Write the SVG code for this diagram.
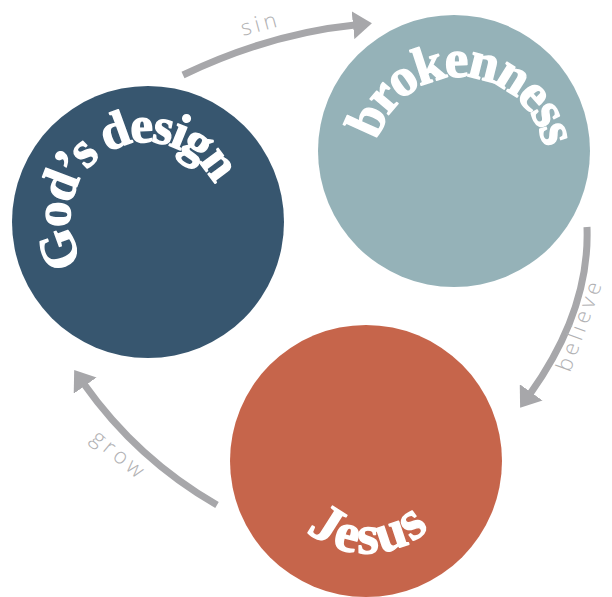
<svg xmlns="http://www.w3.org/2000/svg" width="612" height="597" viewBox="0 0 612 597">
<style>
.title{font-family:"Liberation Serif","Times New Roman",serif;font-weight:700;fill:#ffffff;stroke:#ffffff;stroke-width:1.4;stroke-linejoin:round}
.lbl{font-family:"Open Sans","Liberation Sans",sans-serif;font-weight:300;font-size:22px;fill:#b1b1b3;letter-spacing:4px}
.arrow{fill:none;stroke:#a7a7aa;stroke-width:7;marker-end:url(#head)}
</style>
<defs>
<marker id="head" viewBox="0 0 20 28" refX="2" refY="14" markerWidth="20" markerHeight="28" markerUnits="userSpaceOnUse" orient="auto">
<path d="M0,0 L19,14 L0,28 Z" fill="#a7a7aa"/>
</marker>
<path id="arcGod" d="M83.7,261.6 A76,76 0 1 1 217.4,192"/>
<path id="arcBroken" d="M377.7,140.7 A85,85 0 0 1 544.7,154.6"/>
<path id="arcJesus" d="M306.5,531 A92,92 0 0 0 436,522"/>
</defs>
<g id="connectors">
<path class="arrow" d="M183,75 Q270,33.5 355,25"/>
<text class="lbl" transform="translate(243,36) rotate(-15)">sin</text>
<path class="arrow" d="M587,227 Q590,310 530,394"/>
<text class="lbl" transform="translate(570,373) rotate(-70)" letter-spacing="5.5" font-size="23">believe</text>
<path class="arrow" d="M217,505 Q137,459 84,384"/>
<text class="lbl" transform="translate(90,440) rotate(40)">grow</text>
</g>
<g id="gods-design">
<circle cx="148" cy="222" r="136" fill="#37566f"/>
<text class="title" font-size="51"><textPath href="#arcGod" textLength="250" lengthAdjust="spacing">God’s design</textPath></text>
</g>
<g id="brokenness">
<circle cx="454" cy="151" r="136" fill="#95b2b8"/>
<text class="title" font-size="53"><textPath href="#arcBroken" textLength="231" lengthAdjust="spacing">brokenness</textPath></text>
</g>
<g id="jesus">
<circle cx="366" cy="461" r="136" fill="#c6654b"/>
<text class="title" font-size="55"><textPath href="#arcJesus" textLength="134" lengthAdjust="spacing">Jesus</textPath></text>
</g>
</svg>
